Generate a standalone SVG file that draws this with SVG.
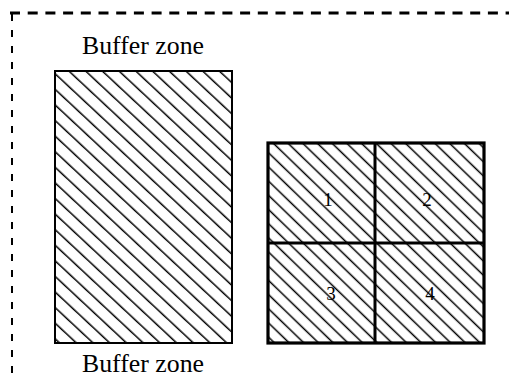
<svg xmlns="http://www.w3.org/2000/svg" width="509" height="381" viewBox="0 0 509 381">
<style>
.lbl{font-family:"Liberation Serif","Times New Roman",serif;fill:#000}
.zone{font-size:25px}
.num{font-size:19px;text-anchor:middle}
</style>
<defs>
<pattern id="hatch" patternUnits="userSpaceOnUse" width="20" height="11.4" patternTransform="rotate(43)">
<line x1="0" y1="5" x2="20" y2="5" stroke="#000" stroke-width="1.5"/>
</pattern>
<pattern id="hatch2" patternUnits="userSpaceOnUse" width="20" height="10.2" patternTransform="rotate(44)">
<line x1="0" y1="5" x2="20" y2="5" stroke="#000" stroke-width="1.5"/>
</pattern>
</defs>
<rect width="509" height="381" fill="#fff"/>
<g id="boundary">
<line x1="10" y1="13" x2="509" y2="13" stroke="#000" stroke-width="3" stroke-dasharray="10 7.7"/>
<line x1="12" y1="14" x2="12" y2="381" stroke="#000" stroke-width="2" stroke-dasharray="7 9"/>
</g>
<g id="buffer-top"><text class="lbl zone" x="82" y="54" textLength="122" lengthAdjust="spacingAndGlyphs">Buffer zone</text></g>
<g id="buffer-rect"><rect x="55" y="71" width="177" height="272" fill="url(#hatch)" stroke="#000" stroke-width="2"/></g>
<g id="buffer-bottom"><text class="lbl zone" x="82" y="372" textLength="122" lengthAdjust="spacingAndGlyphs">Buffer zone</text></g>
<g id="grid">
<rect x="268" y="143" width="216" height="200" fill="url(#hatch2)"/>
<g id="cell-1"><text class="lbl num" x="328" y="206">1</text></g>
<g id="cell-2"><text class="lbl num" x="427" y="206">2</text></g>
<g id="cell-3"><text class="lbl num" x="331" y="300">3</text></g>
<g id="cell-4"><text class="lbl num" x="430" y="300">4</text></g>
<rect x="268" y="143" width="216" height="200" fill="none" stroke="#000" stroke-width="3.2"/>
<line x1="375" y1="143" x2="375" y2="343" stroke="#000" stroke-width="3"/>
<line x1="268" y1="243" x2="484" y2="243" stroke="#000" stroke-width="3"/>
</g>
</svg>
